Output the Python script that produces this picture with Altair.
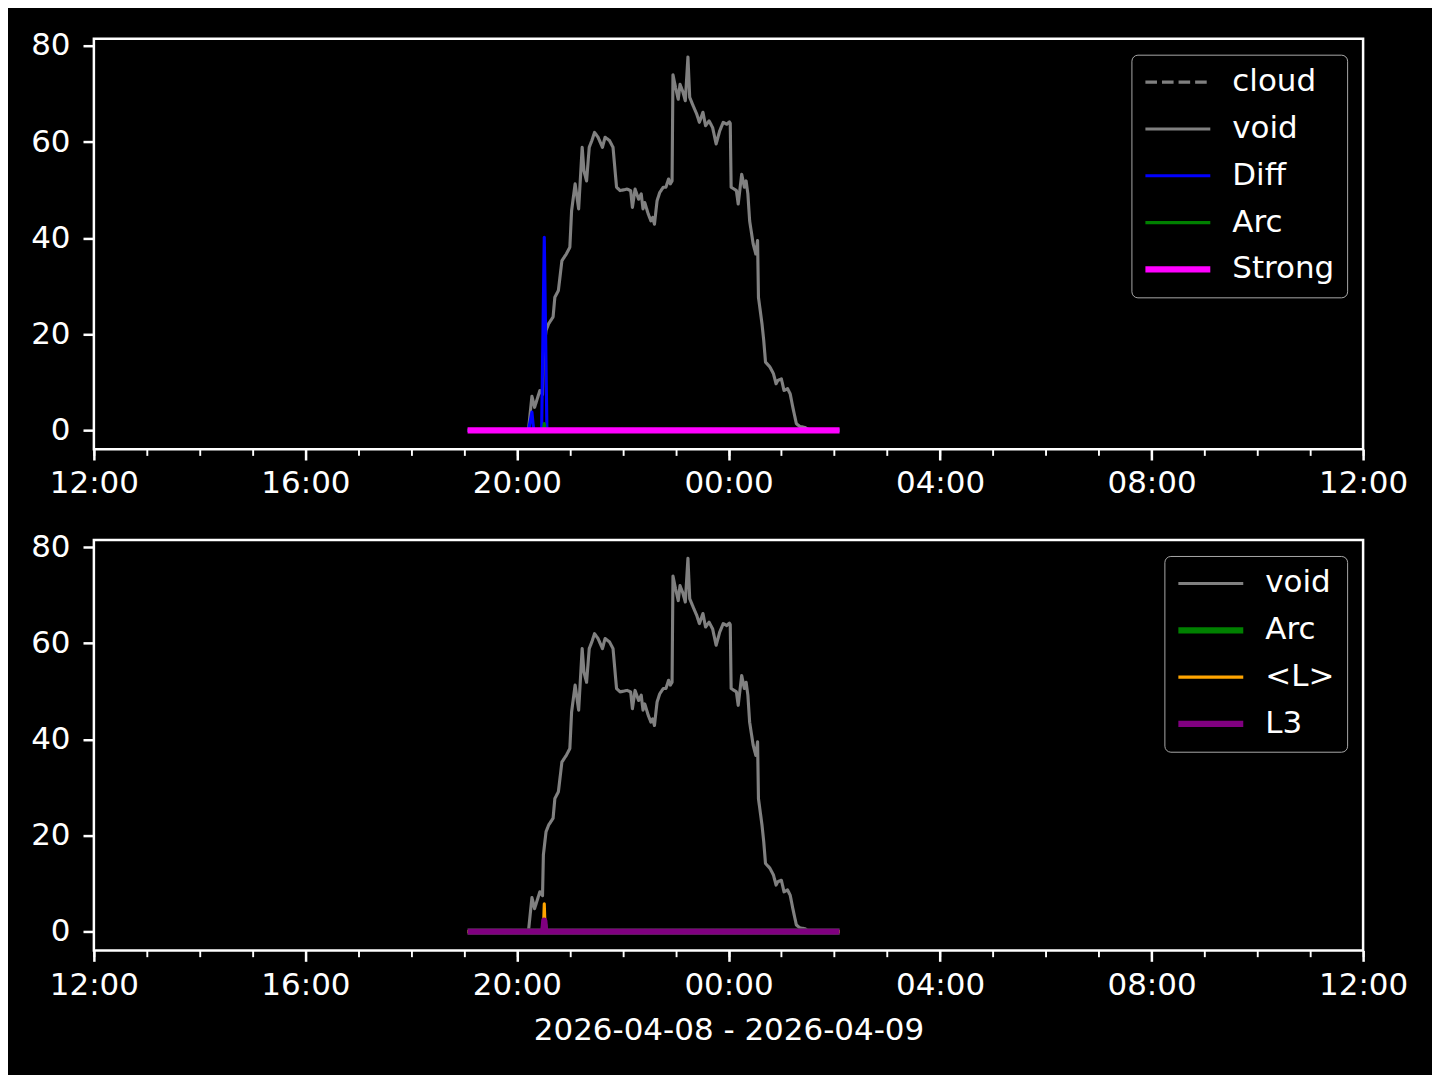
import altair as alt
import pandas as pd

# ---------------- data ----------------
void_times = ["19:04", "20:13", "20:17", "20:20", "20:26", "20:29", "20:30", "20:33", "20:36",
              "20:41", "20:43", "20:47", "20:51", "20:56", "21:00", "21:02", "21:06", "21:10",
              "21:14", "21:16", "21:19", "21:22", "21:25", "21:28", "21:32", "21:37", "21:40",
              "21:45", "21:49", "21:53", "21:57", "22:05", "22:09", "22:11", "22:14", "22:18",
              "22:21", "22:23", "22:25", "22:29", "22:32", "22:34", "22:36", "22:39", "22:42",
              "22:46", "22:49", "22:52", "22:54", "22:56", "22:57", "23:00", "23:03", "23:05",
              "23:08", "23:11", "23:14", "23:16", "23:20", "23:24", "23:27", "23:31", "23:34",
              "23:38", "23:42", "23:46", "23:50", "23:54", "23:58", "00:01", "00:02", "00:03",
              "00:09", "00:11", "00:15", "00:18", "00:20", "00:22", "00:24", "00:28", "00:31",
              "00:33", "00:34", "00:38", "00:40", "00:42", "00:47", "00:51", "00:54", "00:56",
              "01:00", "01:03", "01:07", "01:10", "01:13", "01:17", "01:21", "01:27", "01:29",
              "01:35", "02:06"]
void_values = [0, 0, 7.1, 4.8, 8.3, 7.5, 16.0, 20.8, 22.2,
               23.6, 27.7, 29.1, 35.3, 36.7, 38.1, 45.7, 51.3, 46.1,
               58.9, 54.0, 51.9, 58.9, 60.3, 62.0, 61.0, 58.9, 61.0,
               60.3, 58.9, 50.6, 49.9, 50.2, 49.9, 46.4, 50.2, 48.1,
               49.2, 46.1, 47.4, 45.0, 43.6, 44.3, 42.9, 47.8, 49.5,
               50.6, 50.6, 52.3, 51.3, 51.9, 74.0, 71.3, 68.9, 72.0,
               70.6, 68.6, 77.7, 69.3, 67.5, 65.8, 64.1, 66.2, 63.4,
               64.4, 63.0, 59.6, 62.3, 64.1, 63.7, 64.2, 63.9, 50.6,
               49.9, 47.1, 53.3, 50.6, 51.9, 49.2, 43.6, 38.8, 36.7,
               39.5, 27.7, 22.2, 18.7, 14.2, 13.2, 11.8, 9.7, 10.4,
               10.7, 8.3, 8.7, 7.6, 4.8, 1.4, 0.8, 0.6, 0.3,
               0, 0]

cloud_times = ["19:04", "02:06"]
cloud_values = [0, 0]

diff_times = ["19:04", "20:13", "20:17", "20:19", "20:28", "20:31", "20:34", "02:06"]
diff_values = [0, 0, 3.8, 0, 0, 40.2, 0, 0]

arc_times = ["19:04", "20:30", "20:31", "20:32", "02:06"]
arc_values = [0, 0, 1.4, 0, 0]

strong_times = ["19:04", "02:06"]
strong_values = [0, 0]

lavg_times = ["19:04", "20:30", "20:31", "20:32", "02:06"]
lavg_values = [0, 0, 5.8, 0, 0]

l3_times = ["19:04", "20:30", "20:31", "20:32", "02:06"]
l3_values = [0, 0, 2.3, 0, 0]

x_tick_hours = [12, 16, 20, 0, 4, 8, 12]
y_ticks = [0, 20, 40, 60, 80]
x_title = "2026-04-08 - 2026-04-09"

# ---------------- helpers ----------------
FONT = "DejaVu Sans"
FS = 31
THIN = 3.125
THICK = 6.25
GRAY = "#808080"


def ts(hm):
    h, m = map(int, hm.split(":"))
    day = 8 if h >= 12 else 9
    return f"2026-04-{day:02d}T{h:02d}:{m:02d}:00"


def dt(day, hour):
    return alt.DateTime(year=2026, month=4, date=day, hours=hour, minutes=0)


def table(series):
    rows = []
    for name, (times, vals) in series.items():
        for t, v in zip(times, vals):
            rows.append({"time": ts(t), "value": v, "series": name})
    return pd.DataFrame(rows)


major_vals = []
day = 8
for i, h in enumerate(x_tick_hours):
    if i > 0 and h == 0:
        day = 9
    major_vals.append(dt(day, h))
minor_vals = [dt(8, h) for h in range(12, 24)] + [dt(9, h) for h in range(0, 13)]

x_scale = alt.Scale(domain=[dt(8, 12), dt(9, 12)], nice=False)
y_scale = alt.Scale(domain=[-3.9, 81.5], nice=False, zero=False)
y_axis = alt.Axis(values=y_ticks, title=None, tickSize=10.9, labelPadding=13,
                  grid=False, domain=False)


def panel(df, names, colors, dashes, widths, title):
    leg = alt.Legend(
        title=None, orient="top-right", offset=16,
        symbolType="M-4,0H4", symbolSize=264, symbolOffset=19,
        labelOffset=39, labelFont=FONT, labelFontSize=FS, labelColor="white",
        fillColor="black", strokeColor="#a8a8a8", cornerRadius=6, padding=12,
        rowPadding=14.9, symbolFillColor="transparent",
    )
    color = alt.Color("series:N", scale=alt.Scale(domain=names, range=colors), legend=leg)
    dash = alt.StrokeDash("series:N", scale=alt.Scale(domain=names, range=dashes), legend=leg)
    sw = alt.StrokeWidth("series:N",
                         scale=alt.Scale(type="ordinal", domain=names, range=widths),
                         legend=leg)
    y = alt.Y("value:Q", scale=y_scale, axis=y_axis)
    major_axis = alt.Axis(values=major_vals, format="%H:%M", orient="bottom", tickSize=10.9,
                          labelPadding=9, grid=False, domain=False, labelFlush=False,
                          title=title if title else None, titlePadding=15)
    layers = []
    for i, n in enumerate(names):
        layers.append(
            alt.Chart(df).transform_filter(alt.datum.series == n)
            .mark_line(strokeJoin="round", strokeCap="butt")
            .encode(
                x=alt.X("time:T", scale=x_scale, axis=major_axis if i == 0 else None),
                y=y, color=color, strokeDash=dash, strokeWidth=sw,
            )
        )
    minor = alt.Chart(df).mark_point(opacity=0).encode(
        x=alt.X("time:T", scale=x_scale,
                axis=alt.Axis(values=minor_vals, orient="bottom", tickSize=6.25, tickWidth=1.9,
                              labels=False, grid=False, domain=False, title=None)),
        y=y,
    )
    return alt.layer(*layers, minor).resolve_axis(x="independent").properties(width=1271, height=411)


top_df = table({"cloud": (cloud_times, cloud_values), "void": (void_times, void_values),
                "Diff": (diff_times, diff_values), "Arc": (arc_times, arc_values),
                "Strong": (strong_times, strong_values)})
bot_df = table({"void": (void_times, void_values), "Arc": (arc_times, arc_values),
                "<L>": (lavg_times, lavg_values), "L3": (l3_times, l3_values)})

top = panel(top_df, ["cloud", "void", "Diff", "Arc", "Strong"],
            [GRAY, GRAY, "#0000ff", "#008000", "#ff00ff"],
            [[11.6, 5.0], [1, 0], [1, 0], [1, 0], [1, 0]],
            [THIN, THIN, THIN, THIN, THICK], None)
bot = panel(bot_df, ["void", "Arc", "<L>", "L3"],
            [GRAY, "#008000", "#ffa500", "#800080"],
            [[1, 0], [1, 0], [1, 0], [1, 0]],
            [THIN, THICK, THIN, THICK], x_title)

chart = (
    alt.vconcat(top, bot, spacing=28)
    .resolve_scale(color="independent", strokeDash="independent", strokeWidth="independent")
    .resolve_legend(color="independent", strokeDash="independent", strokeWidth="independent")
    .properties(background="black", padding={"left": 21, "top": 19, "right": 23, "bottom": 27})
    .configure_view(stroke="white", strokeWidth=2.5)
    .configure_axis(labelFont=FONT, labelFontSize=FS, labelColor="white", tickColor="white",
                    tickWidth=2.5, titleFont=FONT, titleFontSize=FS, titleFontWeight="normal",
                    titleColor="white")
)

chart.save("out.html", embed_options={"renderer": "svg", "actions": False})
